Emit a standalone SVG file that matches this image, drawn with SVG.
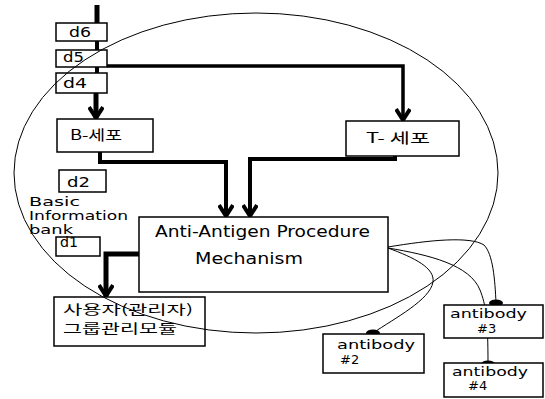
<svg xmlns="http://www.w3.org/2000/svg" width="545" height="399" viewBox="0 0 545 399">
<defs>
<style>
.box{fill:#fff;stroke:#000;stroke-width:1.5}
.t{font-family:"DejaVu Sans","Liberation Sans",sans-serif;font-size:14px;fill:#000}
.s{font-family:"DejaVu Sans","Liberation Sans",sans-serif;font-size:12px;fill:#000}
.a{font-family:"DejaVu Sans","Liberation Sans",sans-serif;font-size:13px;fill:#000}
.k{font-family:"Noto Sans CJK KR",sans-serif;font-size:14px;fill:#000}
.thick{fill:none;stroke:#000;stroke-width:4;stroke-linejoin:miter}
.thin{fill:none;stroke:#000;stroke-width:1}
</style>
<marker id="arr" markerUnits="userSpaceOnUse" viewBox="0 0 20 16" markerWidth="20" markerHeight="16" refX="17" refY="8" orient="auto">
<path d="M6,1 L17,8 L6,15" fill="none" stroke="#000" stroke-width="4"/>
</marker>
<marker id="blob" markerUnits="userSpaceOnUse" viewBox="-9 -5 18 10" markerWidth="18" markerHeight="10" refX="0" refY="0" orient="0">
<ellipse rx="7" ry="3.5" fill="#000"/>
</marker>
</defs>
<rect width="545" height="399" fill="#fff"/>

<g id="connectors">
<path class="thick" d="M97,5 V23" style="stroke-width:5"/>
<path class="thick" d="M97,41 V50"/>
<path class="thick" d="M97,67 V73"/>
<path class="thick" d="M96,93 V118" style="stroke-width:5" marker-end="url(#arr)"/>
<path class="thick" d="M107,66 H403 V120" style="stroke-width:3.5" marker-end="url(#arr)"/>
<path class="thick" d="M100,152 V162 H226 V216" marker-end="url(#arr)"/>
<path class="thick" d="M395,156 V159 H250 V216" marker-end="url(#arr)"/>
<path class="thick" d="M139,254 H106 V296" style="stroke-width:5" marker-end="url(#arr)"/>
<path class="thin" d="M388,247 C430,240 470,236 484,245 C493,254 495,280 496,303" marker-end="url(#blob)"/>
<path class="thin" d="M388,248 C430,255 470,265 480,290 C486,305 488,320 488,364" marker-end="url(#blob)"/>
<path class="thin" d="M388,248 C415,258 435,268 433,282 C430,300 395,318 373,333" marker-end="url(#blob)"/>
</g>

<g id="d6"><rect class="box" x="56" y="23" width="51" height="18"/><text class="t" x="69" y="37" textLength="22" lengthAdjust="spacingAndGlyphs">d6</text></g>
<g id="d5"><rect class="box" x="56" y="50" width="51" height="17"/><text class="t" x="63" y="62" textLength="21" lengthAdjust="spacingAndGlyphs">d5</text></g>
<g id="d4"><rect class="box" x="56" y="73" width="51" height="20"/><text class="t" x="63" y="88" textLength="24" lengthAdjust="spacingAndGlyphs">d4</text></g>
<g id="b-cell"><rect class="box" x="57" y="119" width="96" height="33"/><text class="k" x="70" y="140" textLength="52" lengthAdjust="spacingAndGlyphs">B-세포</text></g>
<g id="t-cell"><rect class="box" x="346" y="121" width="113" height="35"/><text class="k" x="366" y="143" textLength="64" lengthAdjust="spacingAndGlyphs">T- 세포</text></g>
<g id="d2"><rect class="box" x="59" y="170" width="47" height="22"/><text class="t" x="67" y="187" textLength="23" lengthAdjust="spacingAndGlyphs">d2</text></g>
<g id="d1"><rect class="box" x="56" y="237" width="44" height="19"/><text class="t" x="60" y="247" textLength="18" lengthAdjust="spacingAndGlyphs">d1</text></g>
<g id="anti-antigen"><rect class="box" x="139" y="217" width="249" height="75"/>
<text class="t" x="155" y="237" textLength="215" lengthAdjust="spacingAndGlyphs" style="font-size:15px">Anti-Antigen Procedure</text>
<text class="t" x="195" y="264" textLength="108" lengthAdjust="spacingAndGlyphs" style="font-size:15px">Mechanism</text></g>
<g id="user-group"><rect class="box" x="54" y="297" width="151" height="49"/>
<text class="k" x="63" y="314" textLength="130" lengthAdjust="spacingAndGlyphs" style="font-size:13px">사용자(관리자)</text>
<text class="k" x="63" y="333" textLength="114" lengthAdjust="spacingAndGlyphs" style="font-size:13px">그룹관리모듈</text></g>
<g id="antibody2"><rect class="box" x="323" y="334" width="101" height="39"/>
<text class="a" x="337" y="349" textLength="78" lengthAdjust="spacingAndGlyphs">antibody</text><text class="a" x="340" y="364">#2</text></g>
<g id="antibody3"><rect class="box" x="444" y="305" width="99" height="33"/>
<text class="a" x="450" y="318" textLength="77" lengthAdjust="spacingAndGlyphs">antibody</text><text class="a" x="477" y="333">#3</text></g>
<g id="antibody4"><rect class="box" x="444" y="363" width="99" height="34"/>
<text class="a" x="452" y="376" textLength="76" lengthAdjust="spacingAndGlyphs">antibody</text><text class="a" x="468" y="390">#4</text></g>

<g id="basic-information-bank">
<ellipse cx="256" cy="173" rx="242" ry="160" fill="none" stroke="#000" stroke-width="1"/>
<text class="s" x="29" y="206" textLength="51" lengthAdjust="spacingAndGlyphs">Basic</text>
<text class="s" x="29" y="220" textLength="99" lengthAdjust="spacingAndGlyphs">Information</text>
<text class="s" x="29" y="234" textLength="44" lengthAdjust="spacingAndGlyphs">bank</text>
</g>
</svg>
